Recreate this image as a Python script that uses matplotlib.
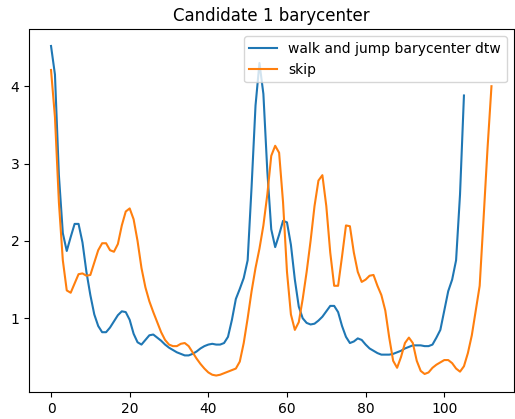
import numpy as np
import matplotlib
matplotlib.use("Agg")
import matplotlib.pyplot as plt

# values
walk_jump = [
    4.52, 4.15, 2.85, 2.1, 1.87, 2.05, 2.22, 2.22, 1.98, 1.6,
    1.3, 1.05, 0.9, 0.82, 0.82, 0.88, 0.96, 1.04, 1.09, 1.08,
    0.98, 0.8, 0.69, 0.66, 0.72, 0.78, 0.79, 0.75, 0.71, 0.66,
    0.62, 0.59, 0.56, 0.54, 0.52, 0.52, 0.54, 0.57, 0.61, 0.64,
    0.66, 0.67, 0.66, 0.66, 0.68, 0.76, 0.98, 1.25, 1.38, 1.52,
    1.75, 2.7, 3.75, 4.3, 3.9, 2.9, 2.15, 1.92, 2.08, 2.26,
    2.24, 1.95, 1.5, 1.15, 1.0, 0.94, 0.92, 0.93, 0.97, 1.02,
    1.09, 1.16, 1.16, 1.08, 0.9, 0.76, 0.68, 0.70, 0.74, 0.72,
    0.66, 0.61, 0.58, 0.55, 0.53, 0.53, 0.53, 0.54, 0.56, 0.58,
    0.61, 0.63, 0.65, 0.65, 0.65, 0.64, 0.64, 0.66, 0.75, 0.85,
    1.1, 1.35, 1.5, 1.75, 2.6, 3.88,
]
skip = [
    4.21, 3.6, 2.5, 1.75, 1.36, 1.33, 1.45, 1.57, 1.58, 1.55,
    1.56, 1.72, 1.88, 1.97, 1.97, 1.88, 1.86, 1.96, 2.2, 2.38,
    2.42, 2.28, 2.0, 1.65, 1.4, 1.22, 1.08, 0.95, 0.82, 0.72,
    0.66, 0.64, 0.64, 0.67, 0.68, 0.64, 0.56, 0.48, 0.41, 0.35,
    0.3, 0.27, 0.26, 0.27, 0.29, 0.31, 0.33, 0.35, 0.44, 0.68,
    1.0, 1.35, 1.65, 1.9, 2.2, 2.6, 3.1, 3.23, 3.14, 2.5,
    1.6, 1.05, 0.85, 0.95, 1.25, 1.6, 2.0, 2.45, 2.78, 2.85,
    2.45, 1.85, 1.42, 1.42, 1.8, 2.2, 2.19, 1.85, 1.6, 1.47,
    1.5, 1.55, 1.56, 1.42, 1.3, 1.1, 0.75, 0.45, 0.36, 0.5,
    0.68, 0.75, 0.68, 0.45, 0.32, 0.28, 0.30, 0.36, 0.40, 0.43,
    0.46, 0.46, 0.42, 0.35, 0.31, 0.38, 0.55, 0.78, 1.1, 1.42,
    2.3, 3.2, 4.0,
]

fig = plt.figure(figsize=(5.15, 4.19), dpi=100)
ax = fig.add_axes([29 / 515, 27 / 419, 484.5 / 515, 362.5 / 419])

ax.plot(np.arange(len(walk_jump)), walk_jump, label="walk and jump barycenter dtw")
ax.plot(np.arange(len(skip)), skip, label="skip")

ax.set_title("Candidate 1 barycenter")
ax.legend(loc="upper right")

fig.savefig("out.png", dpi=100)
